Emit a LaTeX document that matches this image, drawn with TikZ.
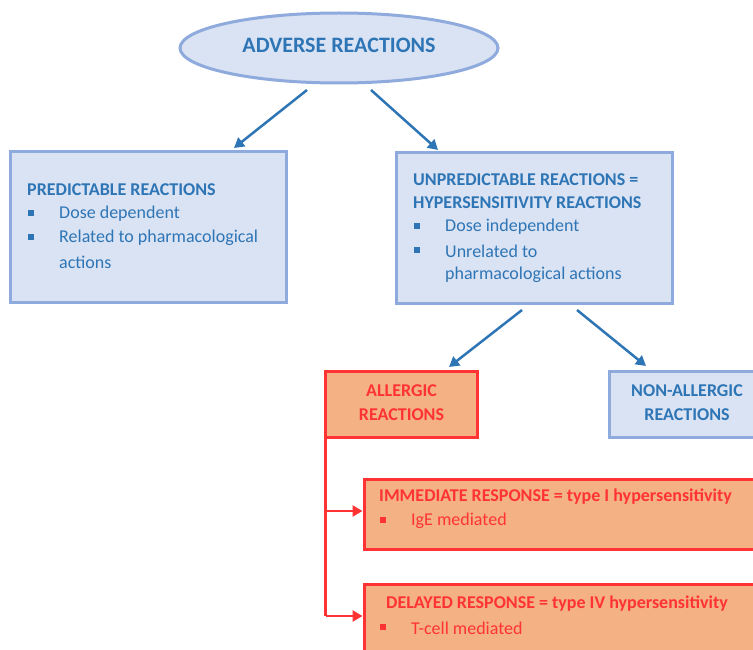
\documentclass[tikz,border=0pt]{standalone}
\usepackage{fontspec}
\setmainfont{Carlito}
\usetikzlibrary{arrows.meta,shapes.geometric}
\definecolor{bfill}{HTML}{DAE3F3}
\definecolor{bline}{HTML}{8FAADC}
\definecolor{btext}{HTML}{2E75B6}
\definecolor{rfill}{HTML}{F4B183}
\definecolor{rline}{HTML}{FF3333}
\definecolor{rtext}{HTML}{FF3333}
\tikzset{
  bbox/.style={draw=bline,fill=bfill,line width=3pt,rectangle,inner sep=0pt},
  rbox/.style={draw=rline,fill=rfill,line width=3pt,rectangle,inner sep=0pt},
  btxt/.style={text=btext,anchor=west,inner sep=0pt,font=\fontsize{18}{21}\selectfont},
  rtxt/.style={text=rtext,anchor=west,inner sep=0pt,font=\fontsize{18}{21}\selectfont},
  bold/.style={font=\fontsize{18}{21}\selectfont\bfseries},
  bul/.style={fill=#1,minimum size=5.5pt,inner sep=0pt,rectangle},
  barr/.style={draw=btext,line width=2.5pt,-{Triangle[length=10pt,width=11pt]}},
  rarr/.style={draw=rline,line width=2.5pt,-{Triangle[length=10pt,width=11pt]}},
}
\begin{document}
\begin{tikzpicture}[x=1pt,y=-1pt]
\useasboundingbox (0,0) rectangle (753,650);
\clip (0,0) rectangle (753,650);
% ellipse
\node[ellipse,draw=bline,fill=bfill,line width=3pt,minimum width=318pt,minimum height=70pt,inner sep=0pt] (ell) at (339,48) {};
\node[text=btext,font=\fontsize{22}{24}\selectfont\bfseries] (elltxt) at (339,45) {ADVERSE REACTIONS};
% predictable
\node[bbox,minimum width=276pt,minimum height=150pt] (pred) at (148.5,227) {};
\node[btxt,bold] (p0) at (27,190) {PREDICTABLE REACTIONS};
\node[bul=btext] (pb1) at (31,213) {};
\node[btxt] (p1) at (59,214) {Dose dependent};
\node[bul=btext] (pb2) at (31,237) {};
\node[btxt] (p2) at (59,238) {Related to pharmacological};
\node[btxt] (p3) at (59,262) {actions};
% unpredictable
\node[bbox,minimum width=276pt,minimum height=150pt] (unp) at (534.5,228) {};
\node[btxt,bold] (u0) at (413,180) {UNPREDICTABLE REACTIONS =};
\node[btxt,bold] (u1) at (413,203) {HYPERSENSITIVITY REACTIONS};
\node[bul=btext] (ub1) at (417,226) {};
\node[btxt] (u2) at (445,227) {Dose independent};
\node[bul=btext] (ub2) at (417,250) {};
\node[btxt] (u3) at (445,251) {Unrelated to};
\node[btxt] (u4) at (445,275) {pharmacological actions};
% allergic
\node[rbox,minimum width=152pt,minimum height=66pt] (all) at (401.5,404.5) {};
\node[text=rtext,bold,align=center] (alltxt) at (401.5,403) {ALLERGIC\\[3pt]REACTIONS};
% non-allergic
\node[bbox,minimum width=160pt,minimum height=66pt] (non) at (689,404.5) {};
\node[text=btext,bold,align=center] (nontxt) at (687,403) {NON-ALLERGIC\\[3pt]REACTIONS};
% immediate
\node[rbox,minimum width=420pt,minimum height=70pt] (imm) at (574,514.5) {};
\node[rtxt,bold] (i0) at (379,497) {IMMEDIATE RESPONSE = type I hypersensitivity};
\node[bul=rtext] (ib) at (383,520) {};
\node[rtxt] (i1) at (411,521) {IgE mediated};
% delayed
\node[rbox,minimum width=420pt,minimum height=90pt] (del) at (574,629) {};
\node[rtxt,bold] (d0) at (386,604) {DELAYED RESPONSE = type IV hypersensitivity};
\node[bul=rtext] (db) at (383,627) {};
\node[rtxt] (d1) at (411,628) {T-cell mediated};
% blue arrows
\coordinate (a1s) at (307,90); \coordinate (a1e) at (234,148);
\coordinate (a2s) at (371,90); \coordinate (a2e) at (438,150);
\coordinate (a3s) at (522,310); \coordinate (a3e) at (449,367);
\coordinate (a4s) at (577,310); \coordinate (a4e) at (646,366);
\draw[barr] (a1s) -- (a1e);
\draw[barr] (a2s) -- (a2e);
\draw[barr] (a3s) -- (a3e);
\draw[barr] (a4s) -- (a4e);
% red connectors
\coordinate (rtop) at (325.5,438);
\coordinate (rmid) at (325.5,511);
\coordinate (rbot) at (325.5,616);
\draw[rline,line width=2.5pt] (rtop) -- (rbot);
\draw[rarr] (rmid) -- (imm.west |- rmid);
\draw[rarr] (rbot) -- (del.west |- rbot);
\end{tikzpicture}
\end{document}
